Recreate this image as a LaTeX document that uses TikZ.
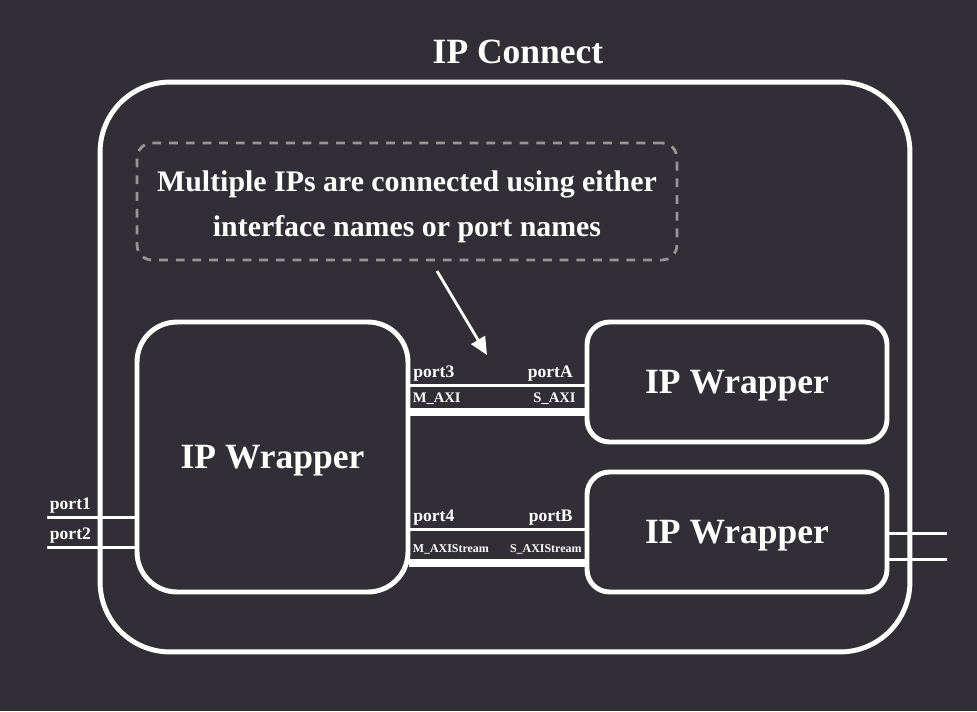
\documentclass[tikz,border=0pt]{standalone}
\usepackage{fontspec}
\setmainfont{Liberation Serif}
\usetikzlibrary{arrows.meta}

\definecolor{fondo}{RGB}{50,46,54}
\definecolor{trazo}{RGB}{150,150,150}

\begin{document}
\begin{tikzpicture}[
    x=0.02cm, y=-0.02cm,
    text=white, font=\bfseries,
    wrapper/.style={draw=white, line width=2.8pt, align=center, text depth=0pt,
        font=\bfseries\fontsize{20.2}{24}\selectfont},
    portlbl/.style={font=\bfseries\fontsize{10}{12}\selectfont, inner xsep=0.8pt, inner ysep=1.5pt},
    ifacelbl/.style={font=\bfseries\fontsize{8.3}{10}\selectfont, inner xsep=0.5pt, inner ysep=1.5pt},
    streamlbl/.style={font=\bfseries\fontsize{6.8}{8}\selectfont, inner xsep=0.5pt, inner ysep=1.5pt},
    thinlink/.style={draw=white, line width=1.7pt},
    thicklink/.style={draw=white, line width=4pt},
    portline/.style={draw=white, line width=1.7pt}
]

% 0. Fondo (fija también el tamaño de la figura)
\fill[fondo] (0,0) rectangle (977,711);

% 1. Envolvente exterior: IP Connect
\node[draw=white, line width=2.8pt, rounded corners=1.4cm,
      minimum width=16.2cm, minimum height=11.4cm] (ipconnect) at (505,367) {};
\node[anchor=base, font=\bfseries\fontsize{20.2}{24}\selectfont] (titulo) at (518,63) {IP Connect};

% 2. Nota (caja discontinua y su texto)
\node[draw=trazo, line width=1.6pt, dash pattern=on 5pt off 4.5pt, rounded corners=0.3cm,
      minimum width=10.8cm, minimum height=2.34cm] (nota) at (407,201.5) {};
\node[align=center, font=\bfseries\fontsize{17}{25.5}\selectfont] (notaTexto)
      at ([yshift=-3.2pt]nota.center)
      {Multiple IPs are connected using either\\interface names or port names};

% 3. Bloques IP Wrapper
\node[wrapper, rounded corners=0.8cm, minimum width=5.42cm, minimum height=5.4cm] (ipL) at (272.5,457) {IP Wrapper};
\node[wrapper, rounded corners=0.45cm, minimum width=6cm, minimum height=2.4cm] (ipA) at (737,382) {IP Wrapper};
\node[wrapper, rounded corners=0.45cm, minimum width=6cm, minimum height=2.4cm] (ipB) at (737,532) {IP Wrapper};

% 4. Conexion superior (M_AXI -> S_AXI)
\draw[thinlink] ([yshift=-0.06cm]ipA.west -| ipL.east) -- ([yshift=-0.06cm]ipA.west)
    node[pos=0, portlbl, anchor=south west] {port3}
    node[pos=1, portlbl, anchor=south east, xshift=-5.1pt] {portA}
    node[pos=0, ifacelbl, anchor=north west, yshift=-2.1pt] {M\_AXI}
    node[pos=1, ifacelbl, anchor=north east, xshift=-3.8pt, yshift=-2.1pt] {S\_AXI};
\draw[thicklink] ([yshift=-0.6cm,xshift=-1pt]ipA.west -| ipL.east) -- ([yshift=-0.6cm]ipA.west);

% 5. Conexion inferior (M_AXIStream -> S_AXIStream)
\draw[thinlink] ([yshift=0.06cm]ipB.west -| ipL.east) -- ([yshift=0.06cm]ipB.west)
    node[pos=0, portlbl, anchor=south west] {port4}
    node[pos=1, portlbl, anchor=south east, xshift=-5.1pt] {portB}
    node[pos=0, streamlbl, anchor=north west, yshift=-6.3pt] {M\_AXIStream}
    node[pos=1, streamlbl, anchor=north east, xshift=-0.4pt, yshift=-6.3pt] {S\_AXIStream};
\draw[thicklink] ([yshift=-0.62cm,xshift=-1pt]ipB.west -| ipL.east) -- ([yshift=-0.62cm]ipB.west);

% 6. Puertos externos
\coordinate (p1) at (47,517);
\coordinate (p2) at (47,547);
\draw[portline] (p1) -- (p1 -| ipL.west) node[pos=0, portlbl, anchor=south west] {port1};
\draw[portline] (p2) -- (p2 -| ipL.west) node[pos=0, portlbl, anchor=south west] {port2};

\coordinate (q1) at (947,533);
\coordinate (q2) at (947,559);
\draw[portline] (ipB.east |- q1) -- (q1);
\draw[portline] (ipB.east |- q2) -- (q2);

% 7. Flecha de la nota
\coordinate (flechaIni) at (437,271);
\coordinate (flechaFin) at (487,355);
\draw[white, line width=1.6pt, -{Triangle[length=10pt,width=9pt]}] (flechaIni) -- (flechaFin);

\end{tikzpicture}
\end{document}
